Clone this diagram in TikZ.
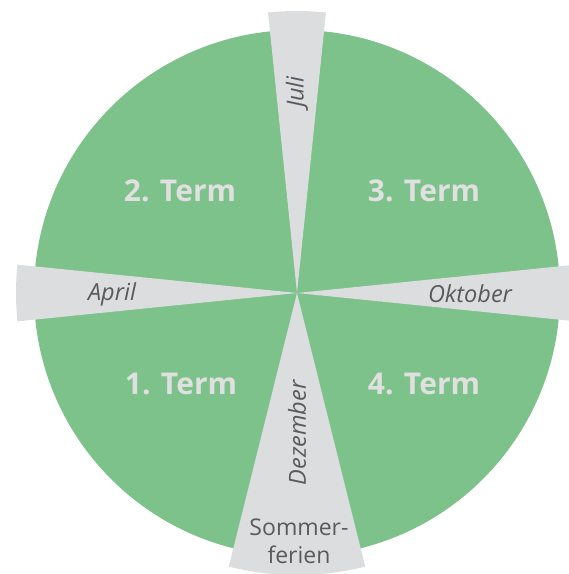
\documentclass[tikz,border=0pt]{standalone}
\usepackage{fontspec}
\setmainfont{Open Sans}
\definecolor{termgreen}{HTML}{7CC28A}
\definecolor{holgray}{HTML}{DCDDDF}
\definecolor{termtext}{HTML}{E0E0E0}
\definecolor{monthtext}{HTML}{5A5A5A}

\begin{document}
\begin{tikzpicture}[x=1pt,y=1pt,
	term/.style={font=\fontsize{30}{36}\selectfont\bfseries,text=termtext},
	month/.style={font=\fontsize{23.5}{28}\selectfont\itshape,text=monthtext},
	holiday/.style={fill=holgray}]
	\useasboundingbox (-297,-281) rectangle (272,293);
	\clip (-297,-281) rectangle (272,293);

	\fill[termgreen] (0,0) circle (263);
	\fill[holiday] (0,0) -- (84.1:282) arc (84.1:95.9:282) -- cycle;
	\fill[holiday] (0,0) -- (174.2:281) arc (174.2:185.8:281) -- cycle;
	\fill[holiday] (0,0) -- (-5.8:282) arc (-5.8:5.8:282) -- cycle;
	\fill[holiday] (0,0) -- (256:282) arc (256:284:282) -- cycle;

	\node (term2) [term] at (-117,102) {2. Term};
	\node (term3) [term] at (127,102) {3. Term};
	\node (term1) [term] at (-116,-91) {1. Term};
	\node (term4) [term] at (127,-91) {4. Term};

	\node (juli) [month,rotate=90] at (0,201) {Juli};
	\node (april) [month] at (-185,-1) {April};
	\node (oktober) [month] at (173,-1) {Oktober};
	\node (dezember) [month,rotate=90] at (0,-140) {Dezember};
	\node (sommerferien) [month,font=\fontsize{23}{28}\selectfont,align=center] at (2,-248) {Sommer-\\ferien};
\end{tikzpicture}
\end{document}
